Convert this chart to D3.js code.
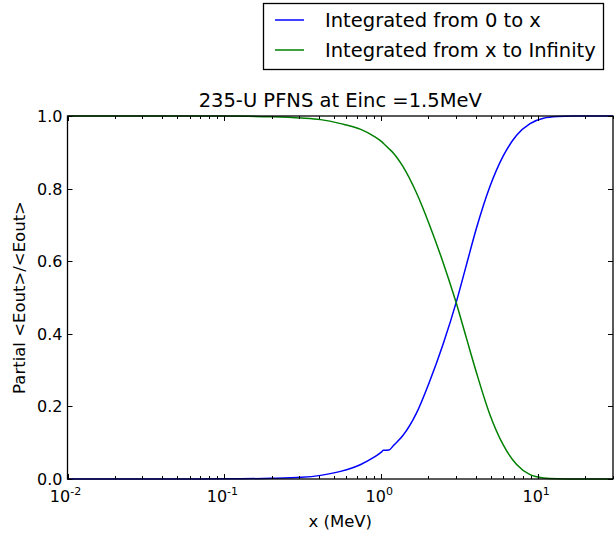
<!DOCTYPE html>
<html>
<head>
<meta charset="utf-8">
<script src="https://cdn.jsdelivr.net/npm/d3@7"></script>
<style>
  html, body { margin: 0; padding: 0; background: #fff; }
  svg { display: block; font-family: "DejaVu Sans", sans-serif; }
</style>
</head>
<body>
<svg id="chart" width="615" height="534"></svg>
<script>
// ---- data ----
const xValues = [0.01, 0.05, 0.1, 0.2, 0.31, 0.41, 0.55, 0.74, 0.9, 1.0, 1.03, 1.12, 1.2, 1.37, 1.67, 2.03, 2.48, 3.01, 3.49, 4.05, 4.92, 5.99, 7.29, 8.88, 10.8, 13.3, 17, 22, 30];
const from0ToX = [0, 0.0001, 0.0004, 0.0018, 0.0045, 0.010, 0.021, 0.040, 0.060, 0.074, 0.079, 0.080, 0.093, 0.119, 0.180, 0.268, 0.372, 0.488, 0.590, 0.692, 0.805, 0.890, 0.947, 0.979, 0.994, 0.9985, 0.9998, 1.0, 1.0];
const fromXToInf = [1.0, 1.0, 0.9997, 0.998, 0.9945, 0.990, 0.979, 0.963, 0.944, 0.930, 0.925, 0.910, 0.897, 0.862, 0.790, 0.700, 0.596, 0.484, 0.388, 0.292, 0.178, 0.094, 0.040, 0.012, 0.003, 0.0006, 0.0001, 0.0, 0.0];
const seriesNames = ["Integrated from 0 to x", "Integrated from x to Infinity"];
const seriesColors = ["#0000ff", "#008000"];
const xDomain = [0.01, 30];
const yTicks = [0.0, 0.2, 0.4, 0.6, 0.8, 1.0];
const xMajorTicks = [0.01, 0.1, 1, 10];
const xTickExponents = ["-2", "-1", "0", "1"];
const titleText = "235-U PFNS at Einc =1.5MeV";
const xLabelText = "x (MeV)";
const yLabelText = "Partial <Eout>/<Eout>";

// ---- layout ----
const svg = d3.select("#chart");
const L = 67.5, R = 613, T = 116, B = 479;
const x = d3.scaleLog().domain(xDomain).range([L, R]);
const y = d3.scaleLinear().domain([0, 1]).range([B, T]);
const fs = 16;

// minor ticks
const xMinor = [];
for (let e = -2; e <= 1; e++) {
  for (let k = 2; k <= 9; k++) {
    const v = k * Math.pow(10, e);
    if (v <= xDomain[1]) xMinor.push(v);
  }
}

const g = svg.append("g");

// lines
const data = [from0ToX, fromXToInf];
const line = d3.line()
  .x((d, i) => x(xValues[i]))
  .y(d => y(d))
  .curve(d3.curveMonotoneX);

svg.append("clipPath").attr("id", "clip")
  .append("rect").attr("x", L).attr("y", T - 1).attr("width", R - L).attr("height", B - T + 2);

data.forEach((s, i) => {
  g.append("path")
    .attr("d", line(s))
    .attr("fill", "none")
    .attr("stroke", seriesColors[i])
    .attr("stroke-width", 1.5)
    .attr("clip-path", "url(#clip)");
});

// ticks (inward, all four sides)
const tickG = svg.append("g").attr("stroke", "#000").attr("stroke-width", 1);
xMajorTicks.forEach(v => {
  const px = Math.round(x(v)) + 0.5;
  tickG.append("line").attr("x1", px).attr("x2", px).attr("y1", B).attr("y2", B - 5);
  tickG.append("line").attr("x1", px).attr("x2", px).attr("y1", T).attr("y2", T + 5);
});
xMinor.forEach(v => {
  const px = Math.round(x(v)) + 0.5;
  tickG.append("line").attr("x1", px).attr("x2", px).attr("y1", B).attr("y2", B - 3);
  tickG.append("line").attr("x1", px).attr("x2", px).attr("y1", T).attr("y2", T + 3);
});
yTicks.forEach(v => {
  const py = Math.round(y(v)) + 0.5;
  tickG.append("line").attr("x1", L).attr("x2", L + 5).attr("y1", py).attr("y2", py);
  tickG.append("line").attr("x1", R).attr("x2", R - 5).attr("y1", py).attr("y2", py);
});

// frame
svg.append("rect")
  .attr("x", L).attr("y", T).attr("width", R - L).attr("height", B - T)
  .attr("fill", "none").attr("stroke", "#000").attr("stroke-width", 1.3);

// y tick labels
yTicks.forEach(v => {
  svg.append("text")
    .attr("x", L - 5).attr("y", y(v) + 6)
    .attr("text-anchor", "end")
    .attr("font-size", fs)
    .text(d3.format(".1f")(v));
});

// x tick labels
xMajorTicks.forEach((v, i) => {
  const t = svg.append("text")
    .attr("x", x(v) - 2).attr("y", B + 23)
    .attr("text-anchor", "middle")
    .attr("font-size", fs);
  t.append("tspan").text("10");
  t.append("tspan").attr("dy", -7).attr("font-size", 11).text(xTickExponents[i]);
});

// title
svg.append("text")
  .attr("x", (L + R) / 2).attr("y", 107)
  .attr("text-anchor", "middle")
  .attr("font-size", 19.5)
  .text(titleText);

// axis labels
svg.append("text")
  .attr("x", (L + R) / 2).attr("y", 527)
  .attr("text-anchor", "middle")
  .attr("font-size", 16.5)
  .text(xLabelText);
svg.append("text")
  .attr("transform", `translate(25,${(T + B) / 2}) rotate(-90)`)
  .attr("text-anchor", "middle")
  .attr("font-size", 16.5)
  .text(yLabelText);

// legend
const lg = svg.append("g");
lg.append("rect").attr("x", 263.5).attr("y", 3.5).attr("width", 340).attr("height", 66)
  .attr("fill", "#fff").attr("stroke", "#000").attr("stroke-width", 1.3);
seriesNames.forEach((n, i) => {
  const cy = 20 + i * 30;
  lg.append("line").attr("x1", 275).attr("x2", 304).attr("y1", cy).attr("y2", cy)
    .attr("stroke", seriesColors[i]).attr("stroke-width", 1.5);
  lg.append("text").attr("x", 325).attr("y", cy + 7).attr("font-size", 19.5).text(n);
});
</script>
</body>
</html>
